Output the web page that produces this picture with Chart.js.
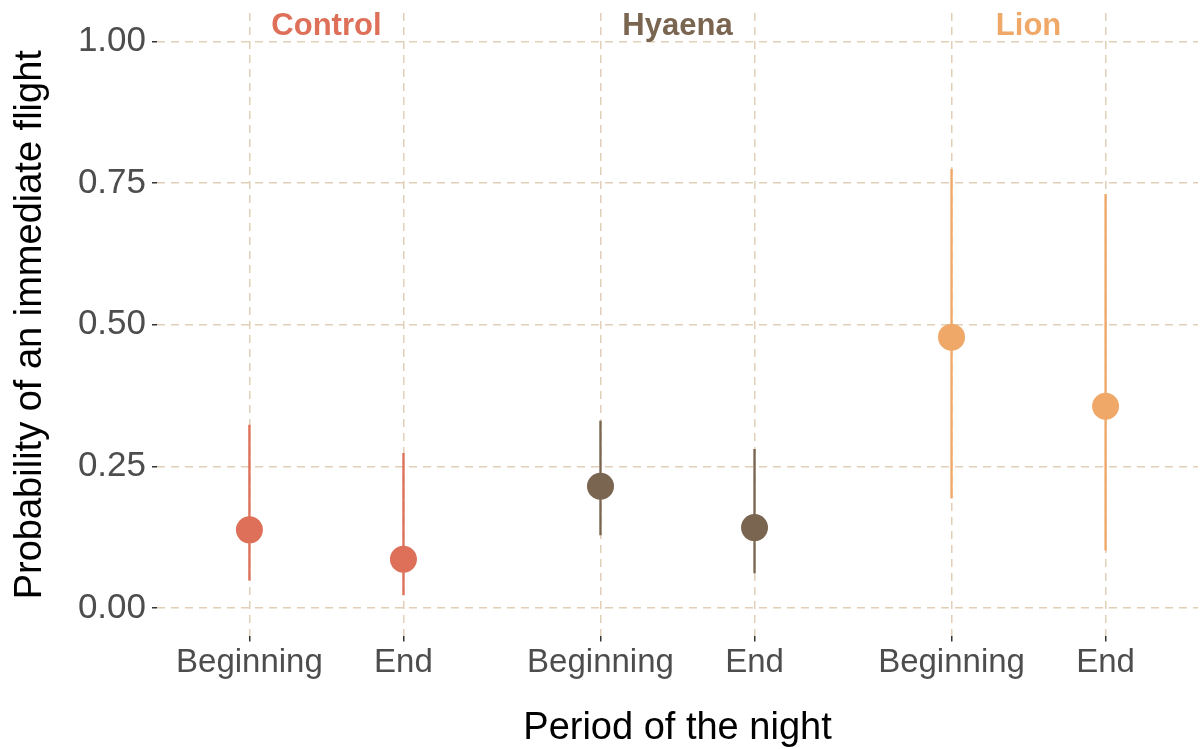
<!DOCTYPE html>
<html>
<head>
<meta charset="utf-8">
<script src="https://cdn.jsdelivr.net/npm/chart.js@4/dist/chart.umd.min.js"></script>
<style>
  html, body { margin: 0; padding: 0; background: #fff; }
  #wrap { width: 1200px; height: 749px; position: relative; }
</style>
</head>
<body>
<div id="wrap"><canvas id="chart" width="1200" height="749"></canvas></div>
<script>
// data
const stimuli = ['Control', 'Hyaena', 'Lion'];
const periods = ['Beginning', 'End'];
const estimates = [0.138, 0.086, 0.215, 0.142, 0.478, 0.356];
const lowerCI = [0.049, 0.023, 0.129, 0.062, 0.194, 0.102];
const upperCI = [0.323, 0.273, 0.330, 0.280, 0.774, 0.730];
const yTicks = [0, 0.25, 0.5, 0.75, 1];

const stimulusColours = ['#DE7059', '#7A6650', '#F0A868'];

// facet layout: each panel holds periods at 1 and 2, panels 2.279 units apart
const PANEL_STEP = 2.279;
const xPos = (s, p) => s * PANEL_STEP + p + 1;

const pointData = [];
const barData = [];
const pointColours = [];
const tickPositions = [];
const tickLabels = [];
stimuli.forEach((name, s) => {
  periods.forEach((per, p) => {
    const i = s * periods.length + p;
    pointData.push({ x: xPos(s, p), y: estimates[i] });
    barData.push({ x: xPos(s, p), y: [lowerCI[i], upperCI[i]] });
    pointColours.push(stimulusColours[s]);
    tickPositions.push(xPos(s, p));
    tickLabels.push(per);
  });
});

const font = '"Liberation Sans", Arial, sans-serif';

const stripLabels = {
  id: 'stripLabels',
  afterDraw(chart) {
    const ctx = chart.ctx;
    const xs = chart.scales.x;
    ctx.save();
    ctx.font = 'bold 31px ' + font;
    ctx.textAlign = 'center';
    ctx.textBaseline = 'middle';
    stimuli.forEach((name, s) => {
      ctx.fillStyle = stimulusColours[s];
      ctx.fillText(name, xs.getPixelForValue(s * PANEL_STEP + 1.5), 26);
    });
    ctx.restore();
  }
};

new Chart(document.getElementById('chart'), {
  type: 'scatter',
  data: {
    datasets: [
      {
        type: 'scatter',
        data: pointData,
        backgroundColor: pointColours,
        pointRadius: 13.5,
        pointBorderWidth: 0,
        order: 0
      },
      {
        type: 'bar',
        data: barData,
        backgroundColor: pointColours,
        barThickness: 1.7,
        order: 1
      }
    ]
  },
  options: {
    responsive: false,
    animation: false,
    layout: { autoPadding: false, padding: { top: 13, right: 2, left: 0, bottom: 0 } },
    plugins: { legend: { display: false }, tooltip: { enabled: false } },
    scales: {
      x: {
        type: 'linear',
        min: 0.4,
        max: 2 * PANEL_STEP + 2.6,
        offset: false,
        afterBuildTicks: (scale) => {
          scale.ticks = tickPositions.map(v => ({ value: v }));
        },
        afterFit: (scale) => {
          scale.height = 112.6;
          scale.paddingLeft = 0;
          scale.paddingRight = 0;
        },
        ticks: {
          autoSkip: false,
          maxRotation: 0,
          padding: 2,
          color: '#4D4D4D',
          font: { family: font, size: 33 },
          callback: (v, i) => tickLabels[i]
        },
        grid: {
          offset: false,
          color: '#E2CFB8',
          lineWidth: 1.5,
          tickLength: 5,
          tickColor: '#333333',
          tickWidth: 1.5,
          tickBorderDash: []
        },
        border: { display: false, dash: [8, 6] },
        title: {
          display: true,
          text: 'Period of the night',
          color: '#000',
          font: { family: font, size: 38 },
          padding: { top: 0, bottom: -2 }
        }
      },
      y: {
        min: -0.05,
        max: 1.05,
        afterBuildTicks: (scale) => {
          scale.ticks = yTicks.map(v => ({ value: v }));
        },
        afterFit: (scale) => {
          scale.width = 157;
          scale.paddingTop = 0;
          scale.paddingBottom = 0;
        },
        ticks: {
          padding: 6,
          color: '#4D4D4D',
          font: { family: font, size: 35 },
          callback: (v) => v.toFixed(2)
        },
        grid: {
          color: '#E2CFB8',
          lineWidth: 1.5,
          tickLength: 5,
          tickColor: '#333333',
          tickWidth: 1.5,
          tickBorderDash: []
        },
        border: { display: false, dash: [8, 6] },
        title: {
          display: true,
          text: 'Probability of an immediate flight',
          color: '#000',
          font: { family: font, size: 38 },
          padding: { top: 8, bottom: 0 }
        }
      }
    }
  },
  plugins: [stripLabels]
});
</script>
</body>
</html>
